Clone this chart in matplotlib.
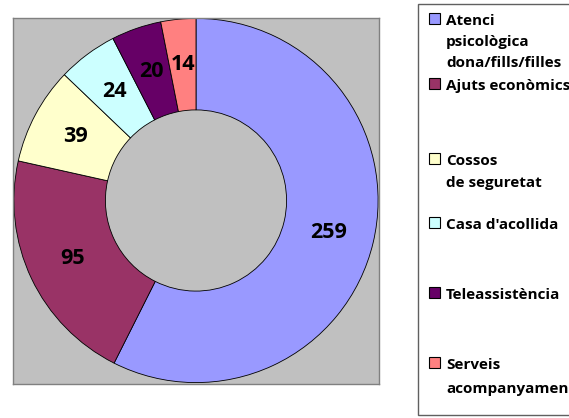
import matplotlib
matplotlib.use("Agg")
import matplotlib.pyplot as plt
from matplotlib.patches import Rectangle

categories = ["Atenci\npsicològica\ndona/fills/filles", "Ajuts econòmics", "Cossos\nde seguretat",
              "Casa d'acollida", "Teleassistència", "Serveis\nacompanyamen"]
values = [259, 95, 39, 24, 20, 14]
colors = ["#9999FF", "#993366", "#FFFFCC", "#CCFFFF", "#660066", "#FF8080"]

W, H = 569, 418
fig = plt.figure(figsize=(W / 100, H / 100), dpi=100)
FONT = "Open Sans"

# plot area in pixel coords
L, T, R, B = 13, 17, 379, 384
ax = fig.add_axes([L / W, 1 - B / H, (R - L) / W, (B - T) / H])
ax.set_facecolor("#C0C0C0")
total = sum(values)
wedges, texts, autotexts = ax.pie(
    values, colors=colors, startangle=90, counterclock=False, radius=0.995,
    wedgeprops=dict(width=0.5, edgecolor="black", linewidth=0.6),
    autopct=lambda p: f"{round(p * total / 100)}", pctdistance=0.75, frame=True,
    textprops=dict(fontsize=15.5, fontweight="bold", family=FONT, color="black"))
ax.set_xlim(-1.0, 1.0)
ax.set_ylim(-1.0, 1.0)
ax.set_xticks([])
ax.set_yticks([])
for s in ax.spines.values():
    s.set_color("#808080")
    s.set_linewidth(1.0)

# legend box
fig.add_artist(Rectangle((418 / W, 1 - 415 / H), (W + 10 - 418) / W, (415 - 4) / H,
                         transform=fig.transFigure, facecolor="white",
                         edgecolor="#606060", linewidth=1.0, clip_on=False))

# legend entries: baselines (px) for each line of each entry
baselines = [[25, 46, 67], [90], [165, 187], [229], [299], [369, 393]]
for cat, col, bl in zip(categories, colors, baselines):
    lines = cat.split("\n")
    fig.add_artist(Rectangle((429 / W, 1 - (bl[0] - 1) / H), 11 / W, 11 / H,
                             transform=fig.transFigure, facecolor=col,
                             edgecolor="black", linewidth=0.8))
    for ln, y in zip(lines, bl):
        fig.text(446 / W, 1 - y / H, ln, fontsize=11, fontweight="bold",
                 family=FONT, va="baseline", ha="left", color="black")

fig.savefig("out.png", dpi=100)
